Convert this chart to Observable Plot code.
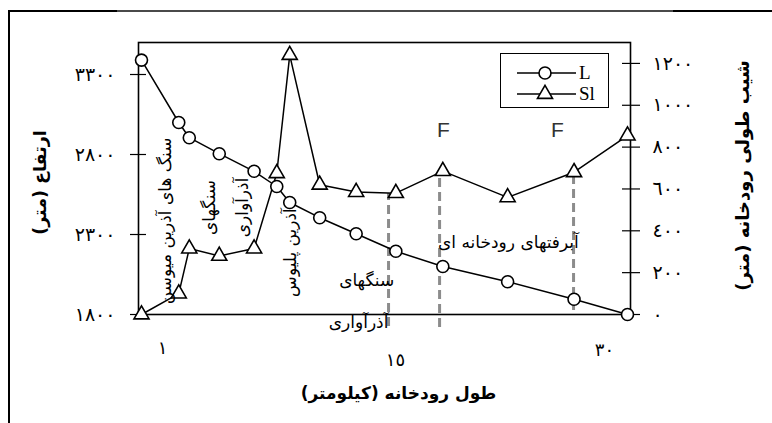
<!DOCTYPE html>
<html><head><meta charset="utf-8">
<script src="https://cdn.jsdelivr.net/npm/d3@7"></script>
<script src="https://cdn.jsdelivr.net/npm/@observablehq/plot@0.6"></script>
<style>
html,body{margin:0;padding:0;background:#fff;}
#wrap{position:relative;width:772px;height:423px;overflow:hidden;background:#fff;}
#wrap svg{position:absolute;left:0;top:0;}
.bl{position:absolute;left:8px;top:10px;width:2px;height:413px;background:#000;}
.bt{position:absolute;left:8px;top:10px;width:764px;height:2px;background:linear-gradient(to right,#000 0 109px,#4a4a4a 109px 665px,#000 665px);}
#legend{position:absolute;left:500px;top:53px;width:107px;height:53px;border:1px solid #000;background:#fff;}
#legend svg{position:static;}
</style></head><body><div id="wrap"><div class="bl"></div><div class="bt"></div></div>
<script>
// River length along profile (km)
const km = [0, 2.3, 2.95, 4.8, 6.95, 8.35, 9.15, 11.0, 13.25, 15.7, 18.6, 22.6, 26.7, 30];
// Elevation L (m) - left axis
const elevation = [3390, 3000, 2905, 2805, 2695, 2600, 2500, 2405, 2305, 2195, 2100, 2005, 1895, 1800];
// Longitudinal slope Sl - right axis
const slope = [0, 100, 315, 280, 315, 675, 1240, 620, 585, 580, 685, 560, 680, 855];

const leftTicks = [1800, 2300, 2800, 3300];
const leftTickLabels = ["۱۸۰۰", "۲۳۰۰", "۲۸۰۰", "۳۳۰۰"];
const rightTicks = [0, 200, 400, 600, 800, 1000, 1200];
const rightTickLabels = ["٠", "٢٠٠", "٤٠٠", "٦٠٠", "٨٠٠", "١٠٠٠", "١٢٠٠"];
const xTicks = [1, 15, 30];
const xTickLabels = ["١", "١٥", "٣٠"];

// lithology boundaries (dashed)
const boundaryKm = [15.25, 18.4, 26.67];
const boundaryTop = [2556, 2681, 2656];
const boundaryBottom = [1725, 1719, 1825];
// faults
const faultKm = [18.64, 25.68];
const faultLabels = ["F", "F"];

// annotations
const annText = ["سنگ های آذرین میوسن", "سنگهای", "آذرآواری", "آذرین پلیوس", "سنگهای", "آذرآواری", "آبرفتهای رودخانه ای"];
const annKm = [1.48, 4.2, 6.23, 9.2, 13.9, 13.4, 22.65];
const annElev = [2385, 2469, 2469, 2187, 2012, 1750, 2250];
const annRotate = [-90, -90, -90, -90, 0, 0, 0];

const yMin = 1800, yMax = 3500, slMax = 1300;
const toLeft = s => yMin + s * (yMax - yMin) / slMax;
const rightTicksMapped = rightTicks.map(toLeft);

const series = km.map((k, i) => ({km: k, elev: elevation[i], sl: toLeft(slope[i])}));
const bounds = boundaryKm.map((k, i) => ({km: k, top: boundaryTop[i], bottom: boundaryBottom[i]}));
const faults = faultKm.map((k, i) => ({km: k, label: faultLabels[i], elev: 2950}));
const anns = annText.map((t, i) => ({text: "\u200F" + t + "\u200F", km: annKm[i], elev: annElev[i], rotate: annRotate[i]}));

const AR = "DejaVu Sans";
const xAxisPart = (i, dx, pad) => Plot.axisX([xTicks[i]], {
  anchor: "bottom", tickSize: 0, tickPadding: pad, dx, label: null,
  tickFormat: () => xTickLabels[i], fontSize: 18, fontFamily: AR
});

const chart = Plot.plot({
  width: 772, height: 423,
  marginLeft: 138, marginRight: 142, marginTop: 42, marginBottom: 109,
  x: {domain: [0, 30], insetLeft: 3, insetRight: 3},
  y: {domain: [yMin, yMax]},
  style: {fontFamily: AR, fontSize: "16px", color: "#000", background: "transparent"},
  marks: [
    Plot.ruleX(bounds, {x: "km", y1: "bottom", y2: "top", stroke: "#8c8c8c", strokeWidth: 3, strokeDasharray: "9,5"}),
    Plot.frame({stroke: "#000", strokeWidth: 1.6}),
    Plot.axisY(leftTicks, {anchor: "left", tickSize: 16, dx: 8, fill: "none", label: null, strokeWidth: 1.2}),
    Plot.axisY(leftTicks, {anchor: "left", tickSize: 0, tickPadding: 23, label: null, fontSize: 19,
      tickFormat: d => leftTickLabels[leftTicks.indexOf(d)]}),
    Plot.axisY(rightTicksMapped, {anchor: "right", tickSize: 18, dx: -9, fill: "none", label: null, strokeWidth: 1.2}),
    Plot.axisY(rightTicksMapped, {anchor: "right", tickSize: 0, tickPadding: 22, label: null, fontSize: 19,
      tickFormat: d => rightTickLabels[rightTicksMapped.indexOf(d)]}),
    xAxisPart(0, 5, 27),
    xAxisPart(1, 11, 39),
    xAxisPart(2, -23, 29),
    Plot.line(series, {x: "km", y: "elev", stroke: "#000", strokeWidth: 1.5}),
    Plot.line(series, {x: "km", y: "sl", stroke: "#000", strokeWidth: 1.5}),
    Plot.dot(series, {x: "km", y: "elev", r: 6, fill: "#fff", stroke: "#000", strokeWidth: 1.6}),
    Plot.dot(series, {x: "km", y: "sl", r: 5.6, symbol: "triangle", fill: "#fff", stroke: "#000", strokeWidth: 1.6}),
    Plot.text(anns, {x: "km", y: "elev", text: "text", rotate: "rotate", fontSize: 17, fill: "#000"}),
    Plot.text(faults, {x: "km", y: "elev", text: "label", fontSize: 21, fontFamily: "Liberation Sans", fill: "#333"}),
    Plot.text(["\u200Fارتفاع (متر)\u200F"], {frameAnchor: "left", textAnchor: "middle", text: d => d, rotate: -90, dx: -98, dy: 4, fontWeight: "bold", fontSize: 17.5}),
    Plot.text(["\u200Fشیب طولی رودخانه (متر)\u200F"], {frameAnchor: "right", textAnchor: "middle", text: d => d, rotate: -90, dx: 113, dy: -3, fontWeight: "bold", fontSize: 18}),
    Plot.text(["\u200Fطول رودخانه (کیلومتر)\u200F"], {frameAnchor: "bottom", textAnchor: "middle", text: d => d, dx: 14, dy: 84, fontWeight: "bold", fontSize: 17})
  ]
});
chart.querySelectorAll('g[aria-label="y-axis tick label"] text').forEach(t => t.setAttribute("letter-spacing", "2"));
const wrap = document.getElementById("wrap");
wrap.insertBefore(chart, wrap.firstChild);

// legend
const legendItems = [{label: "L", symbol: "circle"}, {label: "Sl", symbol: "triangle"}];
const lg = document.createElement("div");
lg.id = "legend";
const ns = "http://www.w3.org/2000/svg";
const lsvg = document.createElementNS(ns, "svg");
lsvg.setAttribute("width", 107); lsvg.setAttribute("height", 53);
legendItems.forEach((it, i) => {
  const cy = 19 + i * 21;
  const ln = document.createElementNS(ns, "line");
  ln.setAttribute("x1", 16); ln.setAttribute("x2", 75); ln.setAttribute("y1", cy); ln.setAttribute("y2", cy);
  ln.setAttribute("stroke", "#000"); ln.setAttribute("stroke-width", 1.5);
  lsvg.appendChild(ln);
  const p = document.createElementNS(ns, "path");
  p.setAttribute("d", d3.symbol(it.symbol === "circle" ? d3.symbolCircle : d3.symbolTriangle, it.symbol === "circle" ? 113 : 98)());
  p.setAttribute("transform", `translate(44,${cy})`);
  p.setAttribute("fill", "#fff"); p.setAttribute("stroke", "#000"); p.setAttribute("stroke-width", 1.6);
  lsvg.appendChild(p);
  const t = document.createElementNS(ns, "text");
  t.setAttribute("x", 78); t.setAttribute("y", cy + 6);
  t.setAttribute("font-family", "Liberation Serif"); t.setAttribute("font-size", 19);
  t.textContent = it.label;
  lsvg.appendChild(t);
});
lg.appendChild(lsvg);
wrap.appendChild(lg);
</script>
</body></html>
